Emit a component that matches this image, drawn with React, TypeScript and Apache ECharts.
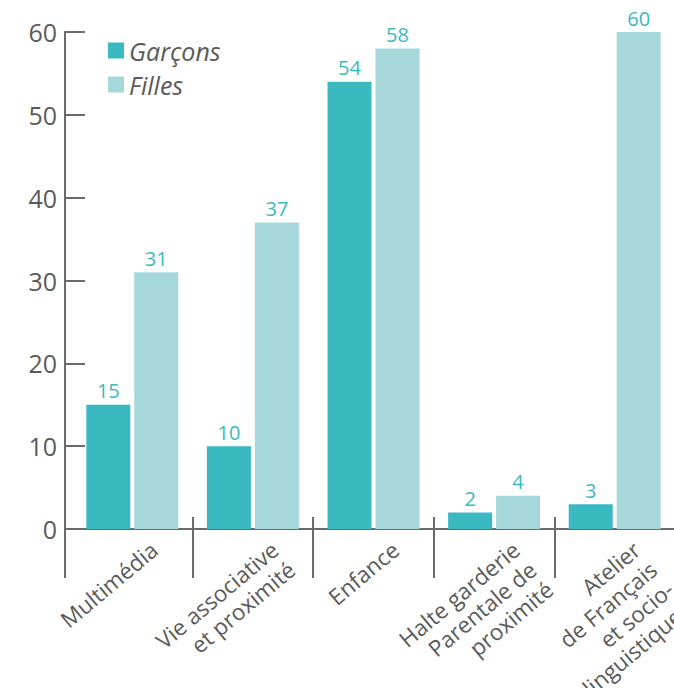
import React, { useEffect, useRef } from "react";
import * as echarts from "echarts";

// Participation par activité, garçons / filles
const categories = [
  "Multimédia",
  "Vie associative\net proximité",
  "Enfance",
  "Halte garderie\nParentale de\nproximité",
  "Atelier\nde Français\net socio-\nlinguistiques",
];
const garcons = [15, 10, 54, 2, 3];
const filles = [31, 37, 58, 4, 60];
const seriesNames = ["Garçons", "Filles"];
const yTicks = { min: 0, max: 60, interval: 10 };

const WIDTH = 674;
const HEIGHT = 688;
const GRID_LEFT = 72;
const GRID_TOP = 32;
const GRID_BOTTOM = 159;
const Y_AXIS_OFFSET = 7;
const TICK_UP = 12;
const TICK_DOWN = 49;

const TEAL = "#3ab9c1";
const LIGHT = "#a5d7db";
const AXIS = "#6b6b6b";
const TEXT = "#5a5a5a";
const FONT = "'Open Sans', 'Noto Sans', sans-serif";

export default function App() {
  const ref = useRef<HTMLDivElement>(null);

  useEffect(() => {
    document.body.style.margin = "0";
    if (!ref.current) return;
    const chart = echarts.init(ref.current, null, { renderer: "svg" });

    const axisX = GRID_LEFT - Y_AXIS_OFFSET;
    const axisY = HEIGHT - GRID_BOTTOM;

    const valueLabel = {
      show: true,
      position: "top" as const,
      distance: 4,
      color: TEAL,
      fontSize: 20,
      fontFamily: FONT,
    };

    chart.setOption({
      animation: false,
      backgroundColor: "#ffffff",
      grid: {
        left: GRID_LEFT,
        right: -1,
        top: GRID_TOP,
        bottom: GRID_BOTTOM,
        containLabel: false,
        outerBoundsMode: "none",
      },
      legend: {
        orient: "vertical",
        left: 108,
        top: 38,
        padding: 0,
        icon: "rect",
        itemWidth: 16,
        itemHeight: 16,
        itemGap: 9,
        textStyle: {
          color: TEXT,
          fontSize: 25,
          fontStyle: "italic",
          fontFamily: FONT,
        },
        data: seriesNames,
      },
      xAxis: [
        {
          type: "category",
          data: categories,
          boundaryGap: true,
          axisLine: { show: true, lineStyle: { color: AXIS, width: 2 } },
          axisTick: {
            show: true,
            inside: false,
            length: TICK_DOWN,
            interval: (i: number) => i !== 0,
            lineStyle: { color: AXIS, width: 2 },
          },
          axisLabel: {
            interval: 0,
            rotate: 40,
            align: "right",
            verticalAlign: "top",
            margin: 19,
            padding: [0, -18, 0, 0],
            color: TEXT,
            fontSize: 22.5,
            lineHeight: 26,
            fontFamily: FONT,
          },
          splitLine: { show: false },
        },
        {
          type: "category",
          data: categories,
          position: "bottom",
          boundaryGap: true,
          axisLine: { show: false },
          axisTick: {
            show: true,
            inside: true,
            length: TICK_UP,
            interval: (i: number) => i !== 0,
            lineStyle: { color: AXIS, width: 2 },
          },
          axisLabel: { show: false },
          splitLine: { show: false },
        },
      ],
      yAxis: {
        type: "value",
        min: yTicks.min,
        max: yTicks.max,
        interval: yTicks.interval,
        offset: Y_AXIS_OFFSET,
        axisLine: { show: true, lineStyle: { color: AXIS, width: 2 } },
        axisTick: { show: true, inside: true, length: 20, lineStyle: { color: AXIS, width: 2 } },
        axisLabel: { color: TEXT, fontSize: 25, fontFamily: FONT, margin: 8 },
        splitLine: { show: false },
      },
      graphic: [
        {
          type: "line",
          silent: true,
          shape: { x1: axisX, y1: axisY - TICK_UP, x2: axisX, y2: axisY + TICK_DOWN },
          style: { stroke: AXIS, lineWidth: 2 },
        },
        {
          type: "line",
          silent: true,
          shape: { x1: axisX, y1: axisY, x2: GRID_LEFT, y2: axisY },
          style: { stroke: AXIS, lineWidth: 2 },
        },
      ],
      series: [
        {
          name: seriesNames[0],
          type: "bar",
          data: garcons,
          barWidth: 44,
          barGap: "9%",
          itemStyle: { color: TEAL },
          label: valueLabel,
        },
        {
          name: seriesNames[1],
          type: "bar",
          data: filles,
          barWidth: 44,
          barGap: "9%",
          itemStyle: { color: LIGHT },
          label: valueLabel,
        },
      ],
    });

    return () => chart.dispose();
  }, []);

  return <div ref={ref} style={{ width: WIDTH, height: HEIGHT }} />;
}
